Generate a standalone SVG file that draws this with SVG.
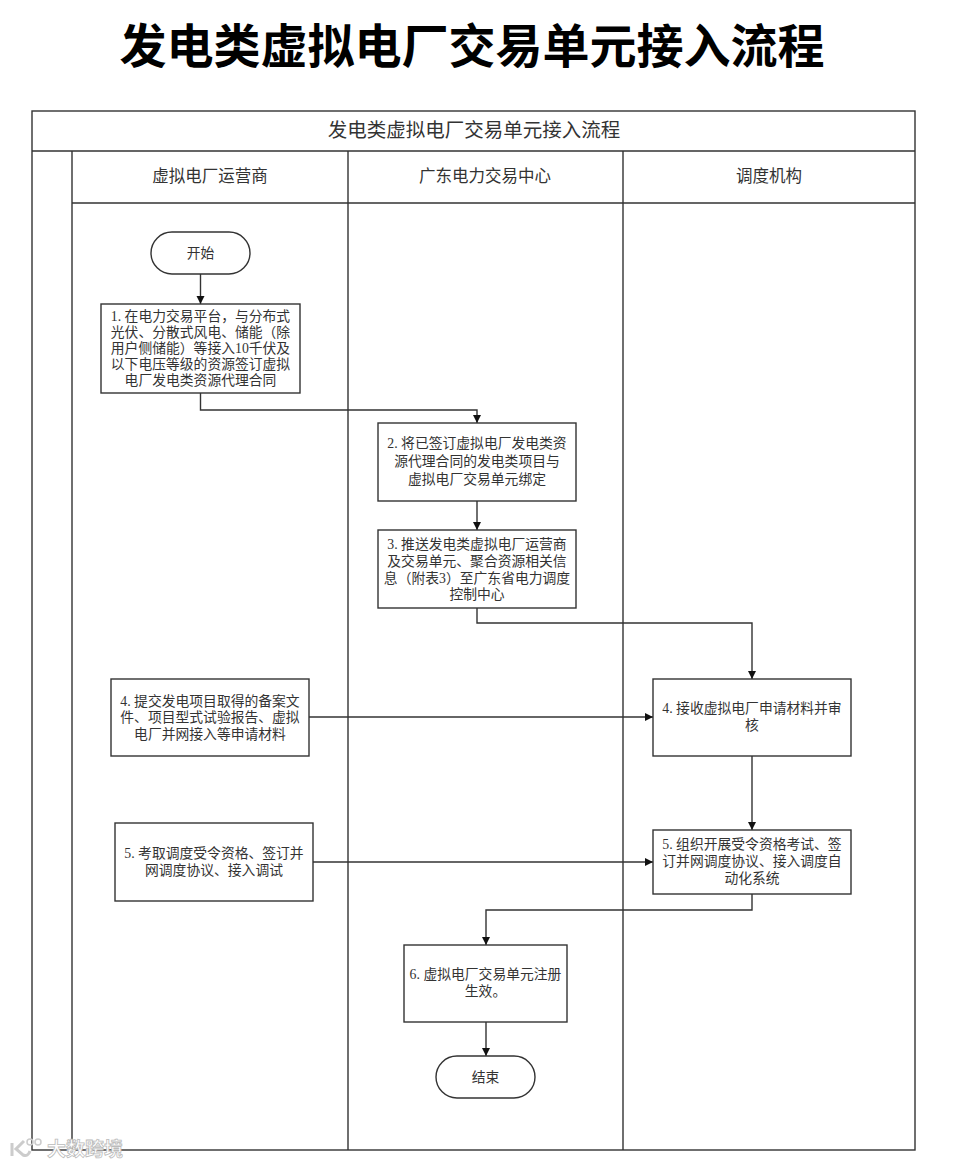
<svg xmlns="http://www.w3.org/2000/svg" width="955" height="1167" viewBox="0 0 955 1167">
<style>
text{font-family:"Liberation Serif","Noto Sans CJK SC",sans-serif;fill:#333;text-anchor:middle}
.b{fill:#fff;stroke:#333;stroke-width:1.4}
.l{fill:none;stroke:#333;stroke-width:1.4}
.t{font-size:13.8px}
.h{font-size:16.5px}
</style>
<defs><marker id="a" markerWidth="10" markerHeight="10" refX="8" refY="4" orient="auto" markerUnits="userSpaceOnUse"><path d="M0 0L8 4L0 8Z" fill="#111"/></marker></defs>
<rect width="955" height="1167" fill="#fff"/>
<text x="472" y="63" font-size="47" font-weight="700" style="fill:#000">发电类虚拟电厂交易单元接入流程</text>
<g id="lanes">
<rect class="l" x="32" y="111" width="883" height="1039"/>
<path class="l" d="M32 151H915M72 151V1150M72 203H915M348 151V1150M623 151V1150"/>
<text x="474" y="136.500" font-size="19.500">发电类虚拟电厂交易单元接入流程</text>
<text class="h" x="210" y="182">虚拟电厂运营商</text>
<text class="h" x="485" y="182">广东电力交易中心</text>
<text class="h" x="769" y="182">调度机构</text>
</g>
<g id="connectors">
<path class="l" marker-end="url(#a)" d="M200.500 274V304"/>
<path class="l" marker-end="url(#a)" d="M200.500 393V410H477V423"/>
<path class="l" marker-end="url(#a)" d="M477 501V530"/>
<path class="l" marker-end="url(#a)" d="M477 608V623H752V679"/>
<path class="l" marker-end="url(#a)" d="M309 717H653"/>
<path class="l" marker-end="url(#a)" d="M752 756V830"/>
<path class="l" marker-end="url(#a)" d="M313 862H653"/>
<path class="l" marker-end="url(#a)" d="M752 894V910H486V945"/>
<path class="l" marker-end="url(#a)" d="M486 1022V1056"/>
</g>
<g id="start"><rect class="b" x="151" y="232" width="99" height="42" rx="21"/><text class="t" x="200.500" y="258">开始</text></g>
<g id="n1"><rect class="b" x="101" y="304" width="199" height="89"/><text class="t"><tspan x="200.500" y="321">1. 在电力交易平台，与分布式</tspan><tspan x="200.500" y="337">光伏、分散式风电、储能（除</tspan><tspan x="200.500" y="353">用户侧储能）等接入10千伏及</tspan><tspan x="200.500" y="369">以下电压等级的资源签订虚拟</tspan><tspan x="200.500" y="385">电厂发电类资源代理合同</tspan></text></g>
<g id="n2"><rect class="b" x="378" y="423" width="198" height="78"/><text class="t"><tspan x="477" y="448">2. 将已签订虚拟电厂发电类资</tspan><tspan x="477" y="466">源代理合同的发电类项目与</tspan><tspan x="477" y="484">虚拟电厂交易单元绑定</tspan></text></g>
<g id="n3"><rect class="b" x="378" y="530" width="198" height="78"/><text class="t"><tspan x="477" y="549">3. 推送发电类虚拟电厂运营商</tspan><tspan x="477" y="566">及交易单元、聚合资源相关信</tspan><tspan x="477" y="583">息（附表3）至广东省电力调度</tspan><tspan x="477" y="599">控制中心</tspan></text></g>
<g id="n4a"><rect class="b" x="111" y="679" width="198" height="77"/><text class="t"><tspan x="210" y="706">4. 提交发电项目取得的备案文</tspan><tspan x="210" y="722">件、项目型式试验报告、虚拟</tspan><tspan x="210" y="739">电厂并网接入等申请材料</tspan></text></g>
<g id="n4b"><rect class="b" x="653" y="679" width="198" height="77"/><text class="t"><tspan x="752" y="713">4. 接收虚拟电厂申请材料并审</tspan><tspan x="752" y="730">核</tspan></text></g>
<g id="n5a"><rect class="b" x="115" y="823" width="198" height="78"/><text class="t"><tspan x="214" y="858">5. 考取调度受令资格、签订并</tspan><tspan x="214" y="875">网调度协议、接入调试</tspan></text></g>
<g id="n5b"><rect class="b" x="653" y="830" width="198" height="64"/><text class="t"><tspan x="752" y="849">5. 组织开展受令资格考试、签</tspan><tspan x="752" y="866">订并网调度协议、接入调度自</tspan><tspan x="752" y="883">动化系统</tspan></text></g>
<g id="n6"><rect class="b" x="404" y="945" width="163" height="77"/><text class="t"><tspan x="485.500" y="979">6. 虚拟电厂交易单元注册</tspan><tspan x="485.500" y="996">生效。</tspan></text></g>
<g id="end"><rect class="b" x="436" y="1056" width="99" height="42" rx="21"/><text class="t" x="485.500" y="1082">结束</text></g>
<g id="watermark"><text x="85" y="1156" font-size="19" style="fill:#fff;stroke:#bbb;stroke-width:.8" font-weight="700">大数跨境</text><path d="M12 1143V1156M24 1141L16 1149L23 1155Q28 1157 30 1151" fill="none" stroke="#ccc" stroke-width="3"/><circle cx="30" cy="1142" r="3" fill="none" stroke="#ccc" stroke-width="1.500"/><circle cx="38" cy="1142" r="3" fill="none" stroke="#ccc" stroke-width="1.500"/></g>
</svg>
